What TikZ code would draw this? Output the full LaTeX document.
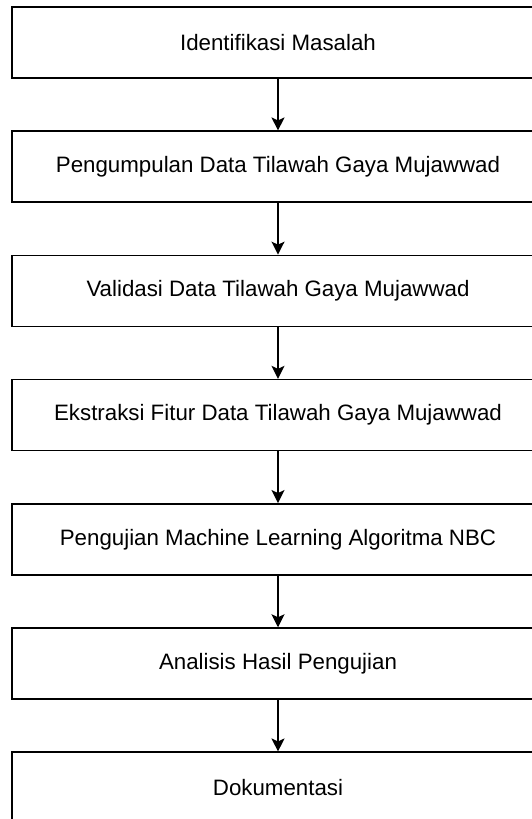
\documentclass[tikz,border=0pt]{standalone}
\usepackage{fontspec}
\setmainfont{Liberation Sans}
\usetikzlibrary{positioning,arrows.meta}
\tikzset{
  stepbox/.style={draw, line width=1.5pt, minimum width=532pt, minimum height=71pt,
    inner sep=0pt, font=\fontsize{22.3}{26}\selectfont},
  flow/.style={line width=1.5pt, -{Stealth[width=13pt,length=13pt,inset=3pt]}}
}
\begin{document}
\begin{tikzpicture}[x=1pt,y=1pt,node distance=51.7pt]
\useasboundingbox (0,0) rectangle (531,-819);
\node[stepbox] (identifikasi) at (278,-42.5) {Identifikasi Masalah};
\node[stepbox, below=of identifikasi] (pengumpulan) {Pengumpulan Data Tilawah Gaya Mujawwad};
\node[stepbox, below=of pengumpulan] (validasi) {Validasi Data Tilawah Gaya Mujawwad};
\node[stepbox, below=of validasi] (ekstraksi) {Ekstraksi Fitur Data Tilawah Gaya Mujawwad};
\node[stepbox, below=of ekstraksi] (pengujian) {Pengujian Machine Learning Algoritma NBC};
\node[stepbox, below=of pengujian] (analisis) {Analisis Hasil Pengujian};
\node[stepbox, below=of analisis] (dokumentasi) {Dokumentasi};
\draw[flow] (identifikasi) -- (pengumpulan);
\draw[flow] (pengumpulan) -- (validasi);
\draw[flow] (validasi) -- (ekstraksi);
\draw[flow] (ekstraksi) -- (pengujian);
\draw[flow] (pengujian) -- (analisis);
\draw[flow] (analisis) -- (dokumentasi);
\end{tikzpicture}
\end{document}
